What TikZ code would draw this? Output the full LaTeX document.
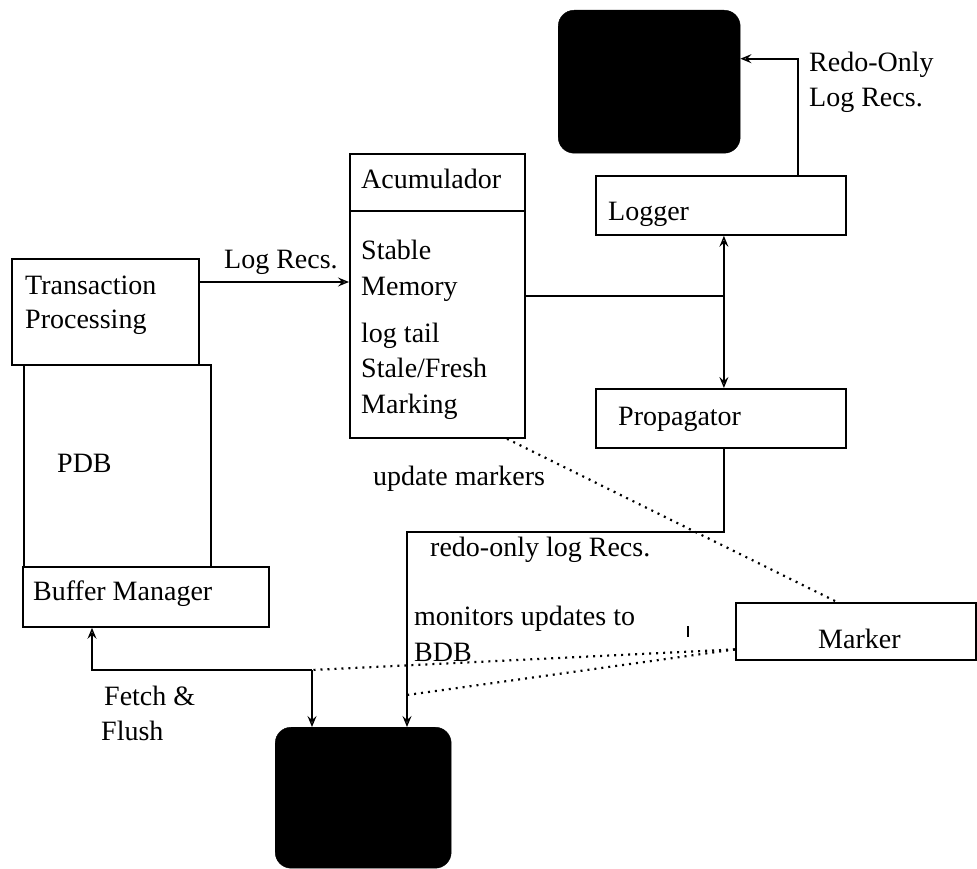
\documentclass[tikz,border=0pt]{standalone}
\usepackage{fontspec}
\setmainfont{Liberation Serif}
\usetikzlibrary{arrows.meta,calc}

\tikzset{
  box/.style={draw, line width=1.8pt, inner sep=0pt, anchor=north west},
  disk/.style={fill=black, draw=black, rounded corners=16pt, inner sep=0pt, anchor=north west},
  lbl/.style={anchor=base west, inner sep=0pt, font=\fontsize{28}{33}\selectfont},
  conn/.style={line width=1.8pt},
  arr/.style={conn, ->},
  dotline/.style={line width=2.2pt, dash pattern=on 2pt off 5pt},
}

\begin{document}
\begin{tikzpicture}[x=1pt, y=-1pt, >={Stealth[open, length=11pt, width=9pt, inset=4pt, line width=1.4pt]}]
  % page frame
  \path[fill=white] (0,0) rectangle (977,869);
  \useasboundingbox (0,0) rectangle (977,869);

  % storage devices
  \node[disk, minimum width=182pt, minimum height=143pt] (tdisk) at (558,10) {};
  \node[disk, minimum width=176pt, minimum height=141pt] (bdisk) at (275,727) {};

  % boxes
  \node[box, minimum width=187pt, minimum height=202pt] (pdb) at (23,364) {};
  \node[box, minimum width=187pt, minimum height=106pt] (tp) at (11,258) {};
  \node[box, minimum width=246pt, minimum height=60pt] (bm) at (22,566) {};
  \node[box, minimum width=175pt, minimum height=284pt] (acc) at (349,153) {};
  \draw[line width=1.8pt] ([yshift=-58pt]acc.north west) -- ([yshift=-58pt]acc.north east);
  \node[box, minimum width=250pt, minimum height=59pt] (logger) at (595,175) {};
  \node[box, minimum width=250pt, minimum height=59pt] (prop) at (595,388) {};
  \node[box, minimum width=240pt, minimum height=57pt] (marker) at (735,602) {};

  % box texts
  \node[lbl] (tTrans) at (25,294) {Transaction};
  \node[lbl] (tProc) at (25,328) {Processing};
  \node[lbl] (tPDB) at (57,472) {PDB};
  \node[lbl] (tBM) at (33,600) {Buffer Manager};
  \node[lbl] (tAcc) at (361,189) {Acumulador};
  \node[lbl] (tStable) at (361,259) {Stable};
  \node[lbl] (tMem) at (361,295) {Memory};
  \node[lbl] (tTail) at (361,342) {log tail};
  \node[lbl] (tStale) at (361,377) {Stale/Fresh};
  \node[lbl] (tMark) at (361,413) {Marking};
  \node[lbl] (tLogger) at (608,221) {Logger};
  \node[lbl] (tProp) at (618,425) {Propagator};
  \node[lbl] (tMarker) at (818,648) {Marker};

  % connector labels
  \node[lbl] (lLog) at (224,268) {Log Recs.};
  \node[lbl] (lRedo1) at (809,72) {Redo-Only};
  \node[lbl] (lRedo2) at (809,107) {Log Recs.};
  \node[lbl] (lUpd) at (373,485) {update markers};
  \node[lbl] (lRedoLow) at (430,556) {redo-only log Recs.};
  \node[lbl] (lMon1) at (414,625) {monitors updates to};
  \node[lbl] (lMon2) at (414,661) {BDB};
  \node[lbl] (lFetch) at (104,705) {Fetch \&};
  \node[lbl] (lFlush) at (101,740) {Flush};

  % junction points
  \coordinate (bus) at ([xshift=3pt]logger.south |- acc.east);
  \coordinate (pj) at (407,532);
  \coordinate (ff) at (312,670);
  \coordinate (mon) at (407,695);

  % solid connectors
  \draw[arr] ([yshift=-24pt]tp.north east) -- ([yshift=-24pt]tp.north east -| acc.west);
  \draw[conn] (acc.east) -- (bus);
  \draw[conn, <->] ([xshift=3pt]logger.south) -- ([xshift=3pt]prop.north);
  \draw[arr] ([xshift=77pt]logger.north) |- ([yshift=23pt]tdisk.east);
  \draw[arr] ([xshift=3pt]prop.south) |- (pj) -- (pj |- bdisk.north);
  \draw[arr] (ff) -- (ff |- bdisk.north);
  \draw[arr] (ff) -| ([xshift=70pt]bm.south west);

  % dotted monitoring lines
  \draw[dotline] ([xshift=158pt]acc.south west) -- ([xshift=102pt]marker.north west);
  \draw[dotline] ([yshift=-18pt]marker.west) -- (ff);
  \draw[dotline] ([yshift=-18pt]marker.west) -- (mon);

  % small tick
  \draw[line width=1.5pt] (688,626) -- (688,637);
\end{tikzpicture}
\end{document}
